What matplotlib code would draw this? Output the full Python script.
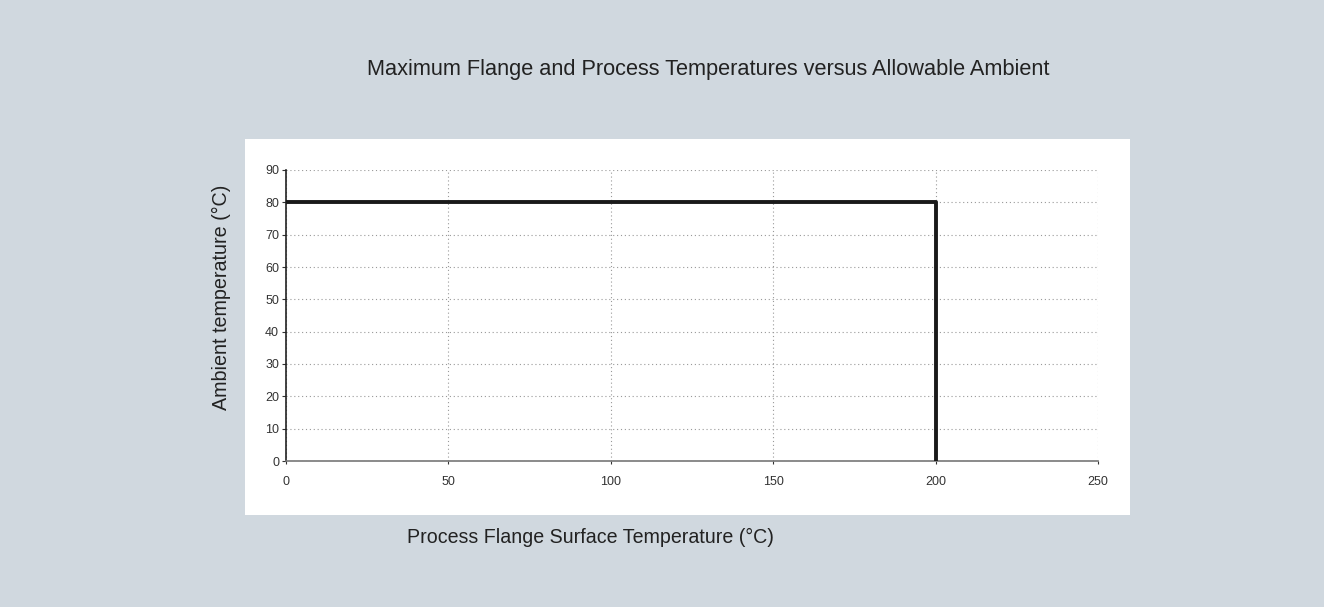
import matplotlib.pyplot as plt
from matplotlib.patches import Rectangle

# limit curve: flange temperature vs max ambient
flange_temp = [0, 200, 200]
ambient_temp = [80, 80, 0]
x_ticks = [0, 50, 100, 150, 200, 250]
y_ticks = [0, 10, 20, 30, 40, 50, 60, 70, 80, 90]

plt.rcParams['font.family'] = ['Liberation Sans', 'DejaVu Sans']

fig = plt.figure(figsize=(13.24, 6.07), dpi=100, facecolor='#d0d8df')
fig.patches.append(Rectangle((245 / 1324, 1 - 515 / 607), 885 / 1324, 376 / 607,
                             transform=fig.transFigure, facecolor='white',
                             edgecolor='none', zorder=-1))

ax = fig.add_axes([286 / 1324, 1 - 461 / 607, 812 / 1324, 291 / 607])
ax.set_zorder(2)
ax.set_facecolor('none')
ax.plot(flange_temp, ambient_temp, color='#1a1a1a', lw=2.8, solid_capstyle='butt', zorder=3)

ax.set_xlim(0, 250)
ax.set_ylim(0, 90)
ax.set_xticks(x_ticks)
ax.set_yticks(y_ticks)
ax.grid(True, color='#999999', linestyle=(0, (1, 2.5)), lw=0.8)
for s in ['top', 'right']:
    ax.spines[s].set_visible(False)
ax.spines['left'].set_color('#222222')
ax.spines['left'].set_linewidth(1.2)
ax.spines['bottom'].set_color('#777777')
ax.spines['bottom'].set_linewidth(1.2)
ax.tick_params(axis='both', labelsize=9, colors='#333333', length=3)
ax.tick_params(axis='y', pad=2)
ax.tick_params(axis='x', pad=9, length=2)

fig.text(708 / 1324, 1 - 70 / 607, 'Maximum Flange and Process Temperatures versus Allowable Ambient',
         ha='center', va='center', fontsize=15.7, color='#222222')
fig.text(590 / 1324, 1 - 537 / 607, 'Process Flange Surface Temperature (°C)',
         ha='center', va='center', fontsize=14.1, color='#222222')
fig.text(221 / 1324, 1 - 297 / 607, 'Ambient temperature (°C)',
         ha='center', va='center', rotation=90, fontsize=14.2, color='#222222')

fig.savefig('out.png', dpi=100, facecolor=fig.get_facecolor())
